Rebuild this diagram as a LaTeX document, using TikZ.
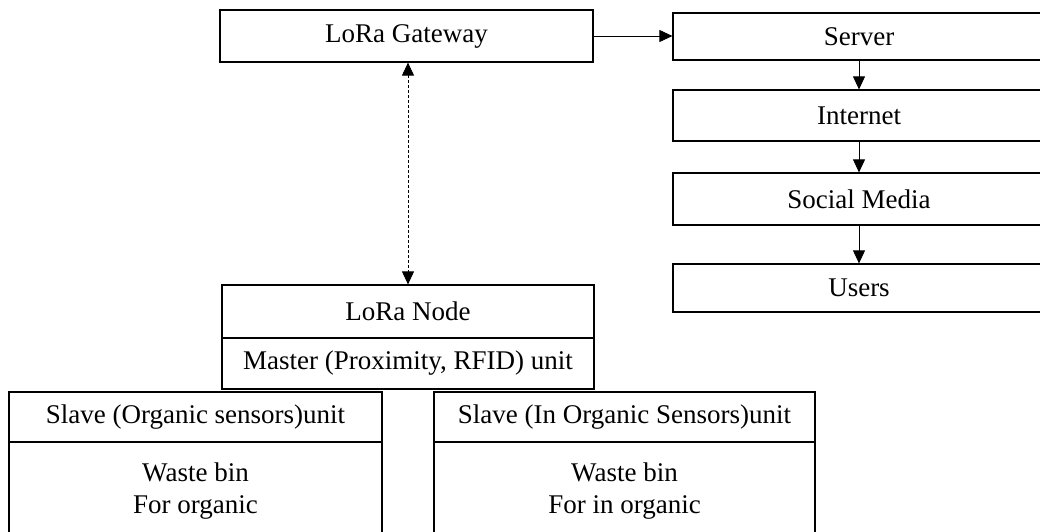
\documentclass[tikz,border=0pt]{standalone}
\usepackage{fontspec}
\setmainfont{Liberation Serif}
\usetikzlibrary{arrows.meta}
\begin{document}
\begin{tikzpicture}[x=1pt,y=-1pt,
  box/.style={draw, line width=1.2pt, rectangle, inner sep=0pt, anchor=center},
  txt/.style={inner sep=0pt, align=center, anchor=center},
  tip/.style={Triangle[length=13pt,width=12pt]},
  arr/.style={line width=0.8pt, -{Triangle[length=13pt,width=12pt]}},
  darr/.style={line width=0.8pt, dash pattern=on 3pt off 2pt, {Triangle[length=13pt,width=12pt]}-{Triangle[length=13pt,width=12pt]}}]
\fontsize{27pt}{32pt}\selectfont
\useasboundingbox (0,0) rectangle (1040,532);
\clip (0,0) rectangle (1040,532);
% Gateway
\node[box, minimum width=373pt, minimum height=52pt] (gw) at (406.5,36) {};
\node[txt] (gwt) at (gw.center) {LoRa Gateway};
% right column
\node[box, minimum width=372pt, minimum height=47pt] (srv) at (859,36.5) {};
\node[txt] (srvt) at (srv.center) {Server};
\node[box, minimum width=372pt, minimum height=51pt] (inet) at (859,115.5) {};
\node[txt] (inett) at (inet.center) {Internet};
\node[box, minimum width=372pt, minimum height=52pt] (sm) at (859,199) {};
\node[txt] (smt) at (sm.center) {Social Media};
\node[box, minimum width=372pt, minimum height=48pt] (usr) at (859,288) {};
\node[txt] (usrt) at (usr.center) {Users};
% LoRa node
\node[box, minimum width=372pt, minimum height=53pt] (ln) at (408,311.5) {};
\node[txt] (lnt) at (ln.center) {LoRa Node};
\node[box, minimum width=372pt, minimum height=51pt] (ms) at (408,363.5) {};
\node[txt] (mst) at (ms.center) {Master (Proximity, RFID) unit};
% slaves
\node[box, minimum width=373pt, minimum height=50pt] (sl) at (195.5,417) {};
\node[txt] (slt) at (sl.center) {Slave (Organic sensors)unit};
\node[box, minimum width=373pt, minimum height=110pt] (slb) at (195.5,497) {};
\node[txt] (slbt) at (195.5,491) {Waste bin\\For organic};
\node[box, minimum width=381pt, minimum height=50pt] (sr) at (624.5,417) {};
\node[txt] (srt) at (sr.center) {Slave (In Organic Sensors)unit};
\node[box, minimum width=381pt, minimum height=110pt] (srb) at (624.5,497) {};
\node[txt] (srbt) at (624.5,491) {Waste bin\\For in organic};
% connectors
\draw[arr] (gw.east) -- (gw.east -| srv.west);
\draw[arr] (srv.south) -- (inet.north);
\draw[arr] (inet.south) -- (sm.north);
\draw[arr] (sm.south) -- (usr.north);
\draw[darr] (gw.south -| ln.north) -- (ln.north);
\end{tikzpicture}
\end{document}
